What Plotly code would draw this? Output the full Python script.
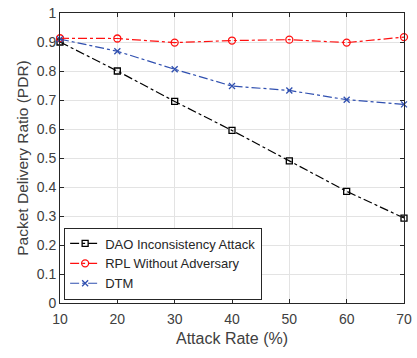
import plotly.graph_objects as go

attack_rate = [10, 20, 30, 40, 50, 60, 70]
dao_attack = [0.900, 0.800, 0.695, 0.595, 0.490, 0.385, 0.293]
rpl_no_adv = [0.913, 0.912, 0.898, 0.905, 0.908, 0.898, 0.917]
dtm = [0.910, 0.868, 0.806, 0.748, 0.733, 0.701, 0.685]
y_ticks = [0, 0.1, 0.2, 0.3, 0.4, 0.5, 0.6, 0.7, 0.8, 0.9, 1]
y_tick_text = ["0", "0.1", "0.2", "0.3", "0.4", "0.5", "0.6", "0.7", "0.8", "0.9", "1"]

FONT = "Liberation Sans, Arial, Helvetica"
TXT = "#404040"

fig = go.Figure()
fig.add_trace(go.Scatter(x=attack_rate, y=dao_attack, name="DAO Inconsistency Attack",
    mode="lines+markers", cliponaxis=False, line=dict(color="black", width=1.2, dash="dashdot"),
    marker=dict(symbol="square-open", size=6, color="black", line=dict(width=1.3))))
fig.add_trace(go.Scatter(x=attack_rate, y=rpl_no_adv, name="RPL Without Adversary",
    mode="lines+markers", cliponaxis=False, line=dict(color="#FF1010", width=1.2, dash="dashdot"),
    marker=dict(symbol="circle-open", size=7, color="#FF1010", line=dict(width=1.3))))
fig.add_trace(go.Scatter(x=attack_rate, y=dtm, name="DTM",
    mode="lines+markers", cliponaxis=False, line=dict(color="#3050B0", width=1.2, dash="dashdot"),
    marker=dict(symbol="x-thin-open", size=6, color="#3050B0", line=dict(width=1.3, color="#3050B0"))))

axis_common = dict(showline=True, linecolor="#262626", linewidth=1, mirror="ticks",
                   ticks="inside", ticklen=4, tickcolor="#262626",
                   showgrid=True, gridcolor="#E3E3E3", gridwidth=1, zeroline=False,
                   ticklabeloverflow="allow",
                   tickfont=dict(family=FONT, size=14, color=TXT))

fig.update_layout(
    width=417, height=358,
    margin=dict(l=60, r=10, t=5, b=55),
    paper_bgcolor="white", plot_bgcolor="white",
    font=dict(family=FONT, color=TXT),
    xaxis=dict(range=[10, 70], tickvals=attack_rate, ticklabelstandoff=3, **axis_common,
               title=dict(text="Attack Rate (%)", font=dict(size=16, color=TXT), standoff=7)),
    yaxis=dict(range=[0, 1], tickvals=y_ticks, ticktext=y_tick_text, **axis_common,
               title=dict(text="Packet Delivery Ratio (PDR)", font=dict(size=15.5, color=TXT), standoff=4)),
    legend=dict(x=0.012, y=0.012, xanchor="left", yanchor="bottom",
                bgcolor="white", bordercolor="#262626", borderwidth=1,
                font=dict(family=FONT, size=13, color="#262626"), itemwidth=30, tracegroupgap=0),
    showlegend=True,
)
fig.write_html("out.html", config={"displayModeBar": False},
               post_script="document.body.style.margin='0';document.body.style.padding='0';")
